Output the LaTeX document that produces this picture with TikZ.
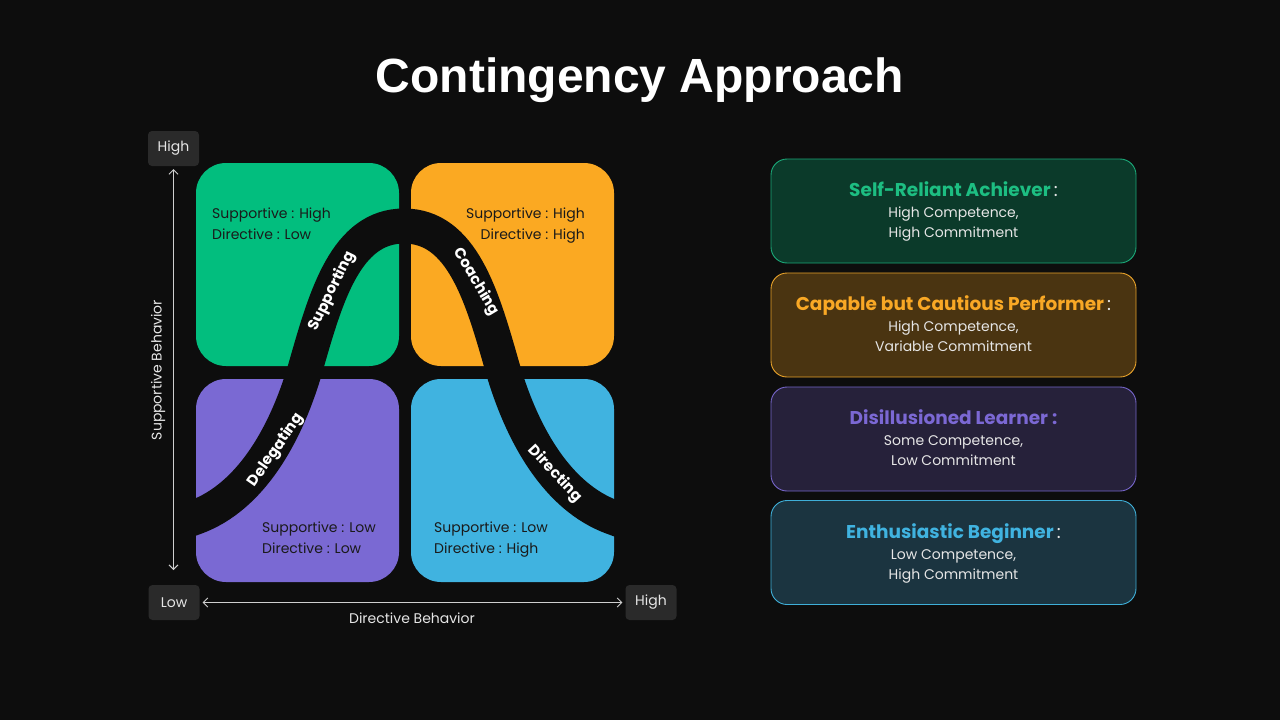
\documentclass[tikz,border=0pt]{standalone}
\usepackage{fontspec}
\setmainfont{Poppins}
\newfontfamily\titlefont{Liberation Sans}
\usetikzlibrary{arrows.meta}
\definecolor{bg}{HTML}{0D0D0D}
\definecolor{cgreen}{HTML}{02BE7E}
\definecolor{corange}{HTML}{FBA922}
\definecolor{cpurple}{HTML}{7A69D3}
\definecolor{cblue}{HTML}{40B3E0}
\definecolor{qtext}{HTML}{1A1A1A}
\definecolor{axgray}{HTML}{CFCFCF}
\definecolor{axbox}{HTML}{2A2A2A}
\definecolor{sub}{HTML}{E6E6E6}
\definecolor{f1}{HTML}{0B3A2A}\definecolor{d1}{HTML}{1BA878}\definecolor{t1}{HTML}{1DBE82}
\definecolor{f2}{HTML}{4A3411}\definecolor{d2}{HTML}{E8A22A}\definecolor{t2}{HTML}{F9A825}
\definecolor{f3}{HTML}{26213A}\definecolor{d3}{HTML}{7565C8}\definecolor{t3}{HTML}{7B68D4}
\definecolor{f4}{HTML}{1B3440}\definecolor{d4}{HTML}{3FAFD8}\definecolor{t4}{HTML}{40B3E0}
\newcommand\fsz[2]{\fontsize{#1}{#2}\selectfont}
\tikzset{
  quad/.style={minimum width=203pt, minimum height=203pt, rounded corners=30pt, inner sep=0pt},
  qlabel/.style={text=qtext, font=\fsz{14}{21}, inner sep=0pt},
  band/.style={draw=bg, line width=35pt},
  bandlabel/.style={text=white, font=\fsz{15}{18}\bfseries, inner sep=0pt},
  axisbox/.style={fill=axbox, rounded corners=4pt, minimum width=51pt, minimum height=35pt, inner sep=0pt, text=sub, font=\fsz{14}{17}},
  axisline/.style={draw=axgray, line width=0.9pt, {Straight Barb[length=4.5pt,width=9pt]}-{Straight Barb[length=4.5pt,width=9pt]}},
  axislabel/.style={text=sub, font=\fsz{14}{17}, inner sep=0pt},
  infobox/.style={rounded corners=16pt, minimum width=365pt, minimum height=104pt, line width=0.9pt, inner sep=0pt},
  boxtitle/.style={font=\fsz{18.5}{22}\bfseries, inner sep=0pt, anchor=base},
  boxline/.style={text=sub, font=\fsz{14}{17}, inner sep=0pt, anchor=base}
}
\begin{document}
\begin{tikzpicture}[x=1pt,y=-1pt]
\fill[bg] (0,0) rectangle (1280,720);
\useasboundingbox (0,0) rectangle (1280,720);

% title
\node[text=white, font=\titlefont\fsz{48}{56}\bfseries, inner sep=0pt] (title) at (640,80) {Contingency Approach};

% quadrants
\node[quad, fill=cgreen] (qg) at (297.5,264.5) {};
\node[quad, fill=corange] (qo) at (512.5,264.5) {};
\node[quad, fill=cpurple] (qp) at (297.5,480.5) {};
\node[quad, fill=cblue] (qb) at (512.5,480.5) {};

% band
\draw[band] (186,520.7) -- (196,517) .. controls (250,497) and (286,436) .. (306,366)
  .. controls (326,296) and (346,226) .. (404,226)
  .. controls (462,226) and (482,296) .. (502,366)
  .. controls (522,436) and (558,497) .. (612,517) -- (622,520.7);

\node[bandlabel, rotate=64] (lsup) at (332,291) {Supporting};
\node[bandlabel, rotate=-59] (lcoa) at (476,282) {Coaching};
\node[bandlabel, rotate=55] (ldel) at (276,450) {Delegating};
\node[bandlabel, rotate=-47] (ldir) at (555,474) {Directing};

% quadrant texts
\node[qlabel, anchor=west, align=left] (tg) at (212,223.5) {Supportive : High\\Directive : Low};
\node[qlabel, anchor=east, align=right] (to) at (585,225.5) {Supportive : High\\Directive : High};
\node[qlabel, anchor=west, align=left] (tp) at (262,537.5) {Supportive : Low\\Directive : Low};
\node[qlabel, anchor=west, align=left] (tb) at (434,539.5) {Supportive : Low\\Directive : High};

% axes
\node[axisbox] (hiY) at (173.5,148.5) {High};
\node[axisbox] (loX) at (174,602.5) {Low};
\node[axisbox] (hiX) at (651,602.5) {High};
\coordinate (ybot) at (173.5,570);
\draw[axisline] (ybot) -- ([yshift=-3pt]hiY.south);
\draw[axisline] ([xshift=3pt]loX.east) -- ([xshift=-3pt]hiX.west);
\node[axislabel, rotate=90] (ylab) at (158,370) {Supportive Behavior};
\node[axislabel] (xlab) at (412,618) {Directive Behavior};

% info boxes
\node[infobox, fill=f1, draw=d1] (b1) at (953.5,211) {};
\node[boxtitle] (b1t) at ([yshift=14.5pt]b1.center) {\textcolor{t1}{Self-Reliant Achiever}\textcolor{sub}{\mdseries\,:}};
\node[boxline] (b1a) at ([yshift=-6.5pt]b1.center) {High Competence,};
\node[boxline] (b1b) at ([yshift=-26.5pt]b1.center) {High Commitment};

\node[infobox, fill=f2, draw=d2] (b2) at (953.5,325) {};
\node[boxtitle] (b2t) at ([yshift=14.5pt]b2.center) {\textcolor{t2}{Capable but Cautious Performer}\textcolor{sub}{\mdseries\,:}};
\node[boxline] (b2a) at ([yshift=-6.5pt]b2.center) {High Competence,};
\node[boxline] (b2b) at ([yshift=-26.5pt]b2.center) {Variable Commitment};

\node[infobox, fill=f3, draw=d3] (b3) at (953.5,439) {};
\node[boxtitle] (b3t) at ([yshift=14.5pt]b3.center) {\textcolor{t3}{Disillusioned Learner :}};
\node[boxline] (b3a) at ([yshift=-6.5pt]b3.center) {Some Competence,};
\node[boxline] (b3b) at ([yshift=-26.5pt]b3.center) {Low Commitment};

\node[infobox, fill=f4, draw=d4] (b4) at (953.5,552.5) {};
\node[boxtitle] (b4t) at ([yshift=14.5pt]b4.center) {\textcolor{t4}{Enthusiastic Beginner}\textcolor{sub}{\mdseries\,:}};
\node[boxline] (b4a) at ([yshift=-6.5pt]b4.center) {Low Competence,};
\node[boxline] (b4b) at ([yshift=-26.5pt]b4.center) {High Commitment};
\end{tikzpicture}
\end{document}
